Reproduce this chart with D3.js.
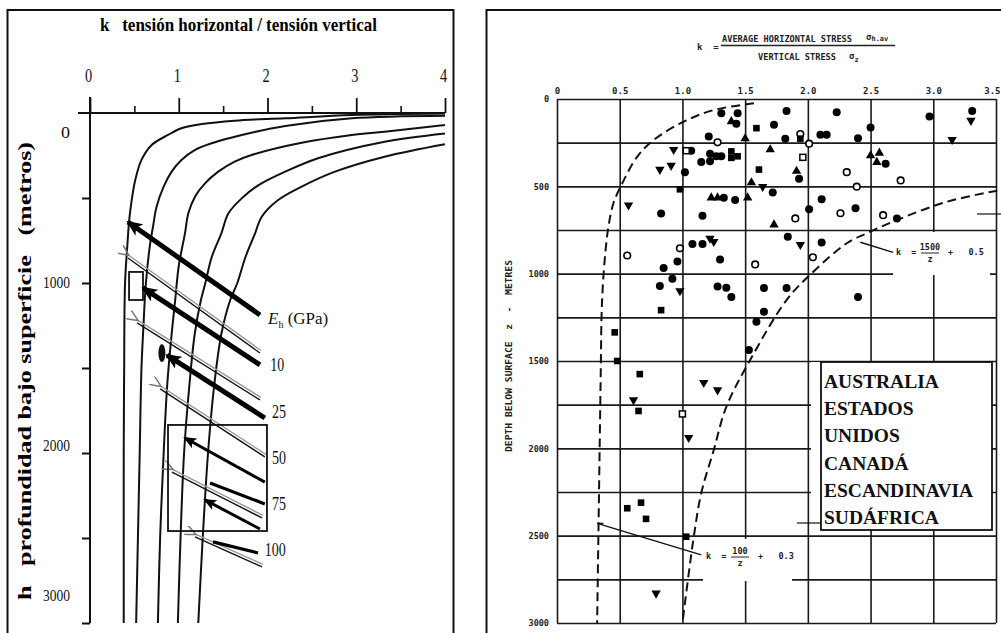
<!DOCTYPE html>
<html>
<head>
<meta charset="utf-8">
<script src="https://cdn.jsdelivr.net/npm/d3@7"></script>
<style>
  body { margin: 0; background: #fff; }
  svg { display: block; }
</style>
</head>
<body>
<svg width="1001" height="633"></svg>
<script>
// ---------- left panel : k against depth for several E_h (GPa) ----------
const ehNames = ["10", "25", "50", "75", "100"];
const curveEh10 = [[4.0,3],[2.95,12],[2.2,31],[1.63,45],[1.26,65],[1.03,90],[0.88,129],[0.695,188],[0.58,276],[0.51,394],[0.47,512],[0.44,639],[0.425,747],[0.395,1000],[0.385,1500],[0.38,2000],[0.38,2500],[0.38,3000]];
const curveEh25 = [[4.0,16],[2.95,31],[2.2,76],[1.82,116],[1.37,178],[1.18,218],[1.03,276],[0.92,345],[0.83,433],[0.75,551],[0.71,669],[0.68,760],[0.63,1000],[0.6,1276],[0.58,1500],[0.56,2000],[0.54,2500],[0.52,3000]];
const curveEh50 = [[4.0,71],[3.32,110],[2.95,129],[2.385,175],[1.82,247],[1.63,286],[1.445,345],[1.296,414],[1.183,492],[1.108,590],[1.07,708],[1.0,900],[0.96,1100],[0.92,1300],[0.87,1600],[0.83,2000],[0.79,2500],[0.765,3000]];
const curveEh75 = [[4.0,120],[3.32,169],[2.57,266],[2.2,345],[1.9,424],[1.71,502],[1.56,590],[1.48,708],[1.37,850],[1.3,1000],[1.25,1100],[1.18,1300],[1.12,1600],[1.06,2000],[1.02,2500],[0.99,3000]];
const curveEh100 = [[4.0,184],[3.32,257],[2.76,345],[2.385,433],[2.12,512],[1.935,610],[1.86,708],[1.75,850],[1.66,1000],[1.58,1100],[1.48,1300],[1.4,1600],[1.33,2000],[1.27,2500],[1.22,3000]];
const curvesL = [curveEh10, curveEh25, curveEh50, curveEh75, curveEh100];

const kTicksL = [0, 1, 2, 3, 4];
const kMinorL = [0.5, 1.5, 2.5, 3.5];
const depthTicksL = [500, 1000, 1500, 2000, 2500, 3000];
const depthLabelsL = [0, 1000, 2000, 3000];

// arrows drawn over the left chart, [k, depth] tail -> head
const heavyArrows = [[[1.915,1188],[0.428,641]], [[1.915,1482],[0.597,1029]], [[1.97,1794],[0.868,1424]]];
const mediumArrows = [[[1.97,2171],[1.07,1912]], [[1.915,2447],[1.296,2276]]];
const heavyStrokes = [[[1.352,2176],[1.97,2300]], [[1.386,2523],[1.893,2588]]];
const thinLeaders = [[[0.428,853],[1.915,1412]], [[0.53,1235],[1.915,1688]], [[0.79,1623],[1.97,2023]], [[0.924,2112],[1.938,2382]], [[1.183,2494],[1.938,2670]]];
const markBoxes = [[[0.44,935],[0.597,1100]], [[0.879,1835],[1.994,2459]]];
const markEllipse = [0.81, 1412];
const labelAnchors = [[2.03,1482],[2.05,1759],[2.05,2029],[2.05,2300],[1.97,2570]];
const ehTitleAnchor = [2.006, 1206];

// ---------- right panel : measured k against depth ----------
const kGridR = [0, 0.5, 1.0, 1.5, 2.0, 2.5, 3.0, 3.5];
const depthGridR = [0, 250, 500, 750, 1000, 1250, 1500, 1750, 2000, 2250, 2500, 2750, 3000];
const depthLabelsR = [0, 500, 1000, 1500, 2000, 2500, 3000];
const regions = ["AUSTRALIA", "ESTADOS", "UNIDOS", "CANADÁ", "ESCANDINAVIA", "SUDÁFRICA"];

const filledCircles = [[1.31,81],[1.44,81],[1.43,142],[1.73,148],[1.83,68],[2.23,76],[2.97,100],[3.31,68],[2.50,163],[2.40,224],[2.10,205],[2.15,205],[1.82,227],[1.21,214],[1.07,296],[1.02,419],[1.15,360],[1.22,356],[1.22,313],[1.27,328],[1.31,328],[1.93,457],[2.62,370],[1.72,536],[1.33,565],[1.42,578],[0.83,656],[1.16,669],[2.01,631],[2.11,574],[2.38,625],[2.71,684],[0.96,930],[1.08,830],[1.16,830],[1.30,919],[1.84,788],[2.11,821],[0.85,968],[0.92,1029],[0.82,1071],[1.28,1073],[1.35,1080],[1.39,1133],[1.65,1082],[1.83,1082],[2.40,1133],[1.65,1218],[1.59,1275],[1.53,1437]];
const openCircles = [[1.94,201],[2.01,256],[1.28,248],[2.31,419],[2.74,466],[2.39,502],[1.90,684],[2.26,654],[2.60,665],[0.56,896],[0.98,855],[2.04,906],[1.58,947]];
const trianglesUp = [[1.39,129],[1.50,227],[1.70,290],[1.91,413],[2.50,324],[2.57,309],[2.55,362],[1.55,479],[1.52,565],[1.23,565],[1.28,565],[1.73,720]];
const trianglesDown = [[3.30,123],[3.15,233],[0.93,290],[0.82,404],[0.91,381],[1.64,502],[0.57,608],[1.22,798],[1.25,817],[1.94,834],[0.98,1099],[0.61,1723],[1.05,1939],[1.17,1624],[1.28,1666],[0.79,2830]];
const filledSquares = [[1.59,167],[1.94,227],[1.39,300],[1.39,337],[1.44,328],[1.61,404],[0.98,517],[0.83,1209],[0.46,1336],[0.48,1500],[0.66,1575],[0.65,1786],[0.56,2343],[0.67,2311],[0.71,2404],[1.03,2506]];
const openSquares = [[1.03,296],[1.96,334],[1.00,1803]];

const innerBound = [[1.57,25],[1.25,63],[1.01,130],[0.77,235],[0.64,330],[0.52,483],[0.45,597],[0.41,731],[0.385,883],[0.365,1074],[0.355,1246],[0.35,1500],[0.34,2000],[0.33,2500],[0.32,3000]];
const outerBound = [[3.51,525],[3.11,588],[2.71,693],[2.47,769],[2.31,826],[2.02,1005],[1.83,1151],[1.54,1494],[1.35,1762],[1.25,2009],[1.15,2257],[1.09,2509],[1.0,3000]];

// ---------- drawing ----------
const svg = d3.select("svg");
const serif = "Liberation Serif";
const mono = "DejaVu Sans Mono";

const xL = d3.scaleLinear().domain([0, 4]).range([90, 445]);
const yL = d3.scaleLinear().domain([0, 3000]).range([113, 623]);
const xR = d3.scaleLinear().domain([0, 3.5]).range([557, 996]);
const yR = d3.scaleLinear().domain([0, 3000]).range([99, 623]);

// panel frames
svg.append("rect").attr("x", 7.5).attr("y", 10).attr("width", 446).attr("height", 700)
  .attr("fill", "none").attr("stroke", "#111").attr("stroke-width", 2);
svg.append("rect").attr("x", 486.5).attr("y", 10).attr("width", 600).attr("height", 700)
  .attr("fill", "none").attr("stroke", "#111").attr("stroke-width", 2);

const defs = svg.append("defs");
defs.append("marker").attr("id", "headBig").attr("markerUnits", "userSpaceOnUse")
  .attr("markerWidth", 16).attr("markerHeight", 14).attr("refX", 14).attr("refY", 7).attr("orient", "auto")
  .append("path").attr("d", "M0,0 L16,7 L0,14 L4,7 z").attr("fill", "#000");
defs.append("marker").attr("id", "headMid").attr("markerUnits", "userSpaceOnUse")
  .attr("markerWidth", 13).attr("markerHeight", 11).attr("refX", 11).attr("refY", 5.5).attr("orient", "auto")
  .append("path").attr("d", "M0,0 L13,5.5 L0,11 L3,5.5 z").attr("fill", "#000");
defs.append("marker").attr("id", "headThin").attr("markerUnits", "userSpaceOnUse")
  .attr("markerWidth", 12).attr("markerHeight", 10).attr("refX", 1).attr("refY", 5).attr("orient", "auto-start-reverse")
  .append("path").attr("d", "M12,0 L1,5 L12,10").attr("fill", "none").attr("stroke", "#777").attr("stroke-width", 1.5);

// ---- left panel ----
const gL = svg.append("g");

gL.append("text").attr("x", 100).attr("y", 31)
  .attr("font-family", serif).attr("font-weight", "bold").attr("font-size", 19)
  .attr("textLength", 277).attr("lengthAdjust", "spacingAndGlyphs").style("white-space", "pre")
  .text("k   tensión horizontal / tensión vertical");

gL.append("text").attr("transform", "translate(31,371) rotate(-90)")
  .attr("text-anchor", "middle")
  .attr("font-family", serif).attr("font-weight", "bold").attr("font-size", 19)
  .attr("textLength", 458).attr("lengthAdjust", "spacingAndGlyphs").style("white-space", "pre")
  .text("h   profundidad bajo superficie   (metros)");

const axTop = gL.append("g").attr("transform", `translate(0,${yL(0)})`)
  .call(d3.axisTop(xL).tickValues(kTicksL).tickSize(15).tickPadding(16).tickFormat(d3.format("d")).tickSizeOuter(0));
axTop.select(".domain").remove();
axTop.selectAll("line").attr("stroke", "#111").attr("stroke-width", 1.8);
axTop.selectAll("text").attr("font-family", serif).attr("font-size", 18).attr("fill", "#111")
  .attr("transform", "translate(-2,0) scale(0.8,1)");
const axMinor = gL.append("g").attr("transform", `translate(0,${yL(0)})`)
  .call(d3.axisTop(xL).tickValues(kMinorL).tickSize(7).tickFormat("").tickSizeOuter(0));
axMinor.select(".domain").remove();
axMinor.selectAll("line").attr("stroke", "#111").attr("stroke-width", 1.6);

gL.append("line").attr("x1", xL(-0.135)).attr("x2", xL(4)).attr("y1", yL(0)).attr("y2", yL(0))
  .attr("stroke", "#111").attr("stroke-width", 2.2);
gL.append("line").attr("x1", xL(0)).attr("x2", xL(0)).attr("y1", yL(0) - 16).attr("y2", yL(3000))
  .attr("stroke", "#111").attr("stroke-width", 2);

const axLeftL = gL.append("g").attr("transform", `translate(${xL(0)},0)`)
  .call(d3.axisLeft(yL).tickValues(depthTicksL).tickSize(8).tickFormat("").tickSizeOuter(0));
axLeftL.select(".domain").remove();
axLeftL.selectAll("line").attr("stroke", "#111").attr("stroke-width", 2);

const labelNudge = [19, -1, -8, -28];
gL.selectAll("text.dl").data(depthLabelsL).join("text").attr("class", "dl")
  .attr("x", 70).attr("y", (d, i) => yL(d) + labelNudge[i])
  .attr("dy", "0.35em").attr("text-anchor", "end")
  .attr("font-family", serif).attr("font-size", 17).attr("fill", "#111")
  .attr("textLength", d => d === 0 ? 9 : 27).attr("lengthAdjust", "spacingAndGlyphs")
  .text(d => d);

const lineL = d3.line().x(d => xL(d[0])).y(d => yL(d[1])).curve(d3.curveCatmullRom.alpha(0.5));
gL.selectAll("path.eh").data(curvesL).join("path").attr("class", "eh")
  .attr("d", lineL).attr("fill", "none").attr("stroke", "#111").attr("stroke-width", 2);

// thin leaders: grey shadow + black line
const seg = (g, data, cls) => g.selectAll("line." + cls).data(data).join("line").attr("class", cls)
  .attr("x1", d => xL(d[0][0])).attr("y1", d => yL(d[0][1]))
  .attr("x2", d => xL(d[1][0])).attr("y2", d => yL(d[1][1]));
seg(gL, thinLeaders, "thinGrey").attr("stroke", "#999").attr("stroke-width", 1.4)
  .attr("transform", "translate(1,-2.5)").attr("marker-start", "url(#headThin)");
seg(gL, thinLeaders, "thinBlack").attr("stroke", "#111").attr("stroke-width", 1.4);

gL.selectAll("rect.mb").data(markBoxes).join("rect").attr("class", "mb")
  .attr("x", d => xL(d[0][0])).attr("y", d => yL(d[0][1]))
  .attr("width", d => xL(d[1][0]) - xL(d[0][0])).attr("height", d => yL(d[1][1]) - yL(d[0][1]))
  .attr("fill", "none").attr("stroke", "#111").attr("stroke-width", 1.8);
gL.select("rect.mb").attr("fill", "#fff");

gL.append("ellipse").attr("cx", xL(markEllipse[0])).attr("cy", yL(markEllipse[1]))
  .attr("rx", 3.5).attr("ry", 9).attr("fill", "#111");

seg(gL, heavyArrows, "heavy").attr("stroke", "#000").attr("stroke-width", 5).attr("marker-end", "url(#headBig)");
seg(gL, mediumArrows, "medium").attr("stroke", "#000").attr("stroke-width", 3).attr("marker-end", "url(#headMid)");
seg(gL, heavyStrokes, "hstroke").attr("stroke", "#000").attr("stroke-width", 3.2);

const ehTitle = gL.append("text").attr("x", xL(ehTitleAnchor[0])).attr("y", yL(ehTitleAnchor[1]))
  .attr("dy", "0.35em").attr("font-family", serif).attr("font-size", 17).attr("fill", "#111");
ehTitle.append("tspan").attr("font-style", "italic").text("E");
ehTitle.append("tspan").attr("font-size", 10).attr("dy", 4).text("h");
ehTitle.append("tspan").attr("dy", -4).text(" (GPa)");

gL.selectAll("text.eh").data(ehNames).join("text").attr("class", "eh")
  .attr("x", (d, i) => xL(labelAnchors[i][0])).attr("y", (d, i) => yL(labelAnchors[i][1]))
  .attr("dy", "0.35em").attr("font-family", serif).attr("font-size", 18).attr("fill", "#111")
  .attr("textLength", d => d.length * 7).attr("lengthAdjust", "spacingAndGlyphs")
  .text(d => d);

// ---- right panel ----
const gR = svg.append("g");
const plotW = xR(3.5) - xR(0), plotH = yR(3000) - yR(0);

const gridV = gR.append("g").attr("transform", `translate(0,${yR(3000)})`)
  .call(d3.axisBottom(xR).tickValues(kGridR).tickSize(-plotH).tickFormat("").tickSizeOuter(0));
gridV.select(".domain").remove();
const gridH = gR.append("g").attr("transform", `translate(${xR(0)},0)`)
  .call(d3.axisLeft(yR).tickValues(depthGridR).tickSize(-plotW).tickFormat("").tickSizeOuter(0));
gridH.select(".domain").remove();
gR.selectAll(".tick line").attr("stroke", "#1a1a1a").attr("stroke-width", 1.6);

const fmtK = d => d === 0 ? "0" : d3.format(".1f")(d);
const axR = gR.append("g").attr("transform", `translate(0,${yR(0)})`)
  .call(d3.axisTop(xR).tickValues(kGridR).tickSize(0).tickPadding(5).tickFormat(fmtK));
axR.select(".domain").remove();
axR.selectAll("text").attr("font-family", mono).attr("font-weight", "bold").attr("font-size", 9).attr("fill", "#222");
// the last label sits at the cut edge of the scan; keep it inside the page
axR.selectAll("text").filter(d => d === 3.5).attr("text-anchor", "end").attr("x", 4);
const ayR = gR.append("g").attr("transform", `translate(${xR(0) - 8},0)`)
  .call(d3.axisLeft(yR).tickValues(depthLabelsR).tickSize(0).tickPadding(0).tickFormat(d3.format("d")));
ayR.select(".domain").remove();
ayR.selectAll("text").attr("font-family", mono).attr("font-weight", "bold").attr("font-size", 8.5).attr("fill", "#222");

// white boxes behind annotations
gR.append("rect").attr("x", 893).attr("y", 232).attr("width", 97).attr("height", 43).attr("fill", "#fff");
gR.append("rect").attr("x", 703).attr("y", 539).attr("width", 89).attr("height", 42).attr("fill", "#fff");
gR.append("rect").attr("x", 811).attr("y", 362).attr("width", 181).attr("height", 168).attr("fill", "#fff");

const lineR = d3.line().x(d => xR(d[0])).y(d => yR(d[1])).curve(d3.curveCatmullRom.alpha(0.5));
gR.selectAll("path.bound").data([innerBound, outerBound]).join("path").attr("class", "bound")
  .attr("d", lineR).attr("fill", "none").attr("stroke", "#111").attr("stroke-width", 2)
  .attr("stroke-dasharray", "9,5");

// leaders to the two formulas
gR.append("line").attr("x1", xR(2.418)).attr("y1", yR(820)).attr("x2", xR(2.68)).attr("y2", yR(878))
  .attr("stroke", "#111").attr("stroke-width", 1.4);
gR.append("line").attr("x1", xR(0.32)).attr("y1", yR(2430)).attr("x2", xR(1.15)).attr("y2", yR(2610))
  .attr("stroke", "#111").attr("stroke-width", 1.4);
gR.append("line").attr("x1", xR(0.32)).attr("y1", yR(2430)).attr("x2", xR(0.37)).attr("y2", yR(2430))
  .attr("stroke", "#111").attr("stroke-width", 1.4);

function fraction(g, x, y, num, den, tail) {
  const t = { "font-family": mono, "font-weight": "bold", "font-size": 8.5, "fill": "#222" };
  const put = (tx, ty, s, anchor) => {
    const e = g.append("text").attr("x", tx).attr("y", ty).attr("text-anchor", anchor || "start").text(s);
    Object.entries(t).forEach(([k, v]) => e.attr(k, v));
    return e;
  };
  put(x, y + 3, "k  =").style("white-space", "pre");
  put(x + 34, y - 2, num, "middle");
  put(x + 34, y + 10, den, "middle");
  g.append("line").attr("x1", x + 25).attr("x2", x + 43).attr("y1", y + 1).attr("y2", y + 1)
    .attr("stroke", "#222").attr("stroke-width", 1);
  put(x + 52, y + 3, "+   " + tail).style("white-space", "pre");
}
fraction(gR, 896, 252, "1500", "z", "0.5");
fraction(gR, 706, 556, "100", "z", "0.3");

// stubs
gR.append("line").attr("x1", 797).attr("x2", 821).attr("y1", 523).attr("y2", 523).attr("stroke", "#111").attr("stroke-width", 1.2);
gR.append("line").attr("x1", 977).attr("x2", 1001).attr("y1", 214).attr("y2", 214).attr("stroke", "#111").attr("stroke-width", 1.2);

// markers
const px = d => xR(d[0]), py = d => yR(d[1]);
gR.selectAll("circle.fc").data(filledCircles).join("circle").attr("class", "fc")
  .attr("cx", px).attr("cy", py).attr("r", 4).attr("fill", "#000");
gR.selectAll("circle.oc").data(openCircles).join("circle").attr("class", "oc")
  .attr("cx", px).attr("cy", py).attr("r", 3.3).attr("fill", "#fff").attr("stroke", "#000").attr("stroke-width", 1.6);
const tri = d3.symbol().type(d3.symbolTriangle).size(38);
gR.selectAll("path.tu").data(trianglesUp).join("path").attr("class", "tu")
  .attr("d", tri).attr("transform", d => `translate(${px(d)},${py(d)})`).attr("fill", "#000");
gR.selectAll("path.td").data(trianglesDown).join("path").attr("class", "td")
  .attr("d", tri).attr("transform", d => `translate(${px(d)},${py(d)}) rotate(180)`).attr("fill", "#000");
gR.selectAll("rect.fs").data(filledSquares).join("rect").attr("class", "fs")
  .attr("x", d => px(d) - 3.3).attr("y", d => py(d) - 3.3).attr("width", 6.6).attr("height", 6.6).attr("fill", "#000");
gR.selectAll("rect.os").data(openSquares).join("rect").attr("class", "os")
  .attr("x", d => px(d) - 3).attr("y", d => py(d) - 3).attr("width", 6).attr("height", 6)
  .attr("fill", "#fff").attr("stroke", "#000").attr("stroke-width", 1.5);

// legend box
gR.append("rect").attr("x", 821).attr("y", 362).attr("width", 171).attr("height", 168)
  .attr("fill", "#fff").attr("stroke", "#111").attr("stroke-width", 1.8);
gR.selectAll("text.reg").data(regions).join("text").attr("class", "reg")
  .attr("x", 824).attr("y", (d, i) => 388 + i * 27.2)
  .attr("font-family", serif).attr("font-weight", "bold").attr("font-size", 19.5).attr("fill", "#111")
  .text(d => d);

// header formula
const hdr = gR.append("g").attr("font-family", mono).attr("font-weight", "bold").attr("fill", "#222");
hdr.append("text").attr("x", 697).attr("y", 50).attr("font-size", 9).style("white-space", "pre").text("k  =");
hdr.append("text").attr("x", 722).attr("y", 41.5).attr("font-size", 9)
  .attr("textLength", 130).attr("lengthAdjust", "spacingAndGlyphs").text("AVERAGE HORIZONTAL STRESS");
const sh = hdr.append("text").attr("x", 866).attr("y", 40).attr("font-size", 9);
sh.append("tspan").text("σ");
sh.append("tspan").attr("font-size", 7).attr("dy", 1).text("h.av");
hdr.append("line").attr("x1", 721).attr("x2", 895).attr("y1", 45.5).attr("y2", 45.5).attr("stroke", "#222").attr("stroke-width", 1.3);
hdr.append("text").attr("x", 758).attr("y", 60).attr("font-size", 9)
  .attr("textLength", 78).attr("lengthAdjust", "spacingAndGlyphs").text("VERTICAL STRESS");
const sz = hdr.append("text").attr("x", 849).attr("y", 59).attr("font-size", 9);
sz.append("tspan").text("σ");
sz.append("tspan").attr("font-size", 7).attr("dy", 3).text("z");

gR.append("text").attr("transform", "translate(512,356) rotate(-90)").attr("text-anchor", "middle")
  .attr("font-family", mono).attr("font-weight", "bold").attr("font-size", 8.5).attr("fill", "#222")
  .attr("textLength", 192).attr("lengthAdjust", "spacingAndGlyphs").style("white-space", "pre")
  .text("DEPTH BELOW SURFACE  z  -  METRES");
</script>
</body>
</html>
